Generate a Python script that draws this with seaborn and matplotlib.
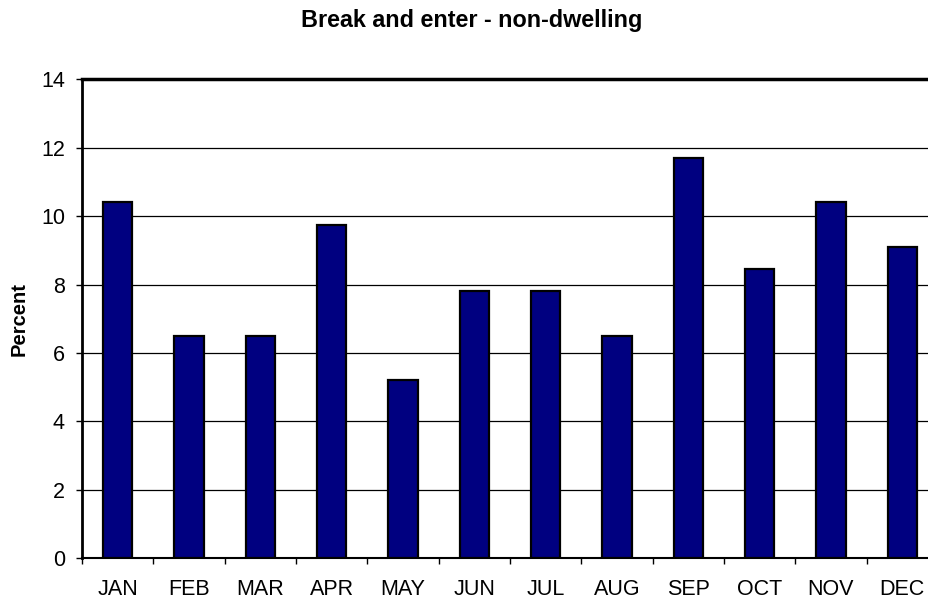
import matplotlib
matplotlib.use("Agg")
import matplotlib.pyplot as plt
import seaborn as sns
import pandas as pd
import numpy as np

months = ["JAN", "FEB", "MAR", "APR", "MAY", "JUN", "JUL", "AUG", "SEP", "OCT", "NOV", "DEC"]
percent = [10.4, 6.5, 6.5, 9.75, 5.2, 7.8, 7.8, 6.5, 11.7, 8.45, 10.4, 9.1]
yticks = [0, 2, 4, 6, 8, 10, 12, 14]
title = "Break and enter - non-dwelling"
ylabel = "Percent"

sns.set_theme(style="white")
plt.rcParams['font.family'] = ['Liberation Sans', 'DejaVu Sans']
for k in ["text.color", "axes.labelcolor", "xtick.color", "ytick.color"]:
    plt.rcParams[k] = "black"

df = pd.DataFrame({"month": months, "percent": percent})

W, H = 929, 602
fig = plt.figure(figsize=(W / 100, H / 100), dpi=100)
left, right, top, bottom = 82, 938, 79.3, 558.3
ax = fig.add_axes([left / W, (H - bottom) / H, (right - left) / W, (bottom - top) / H])

sns.barplot(data=df, x="month", y="percent", ax=ax, color="#000080",
            width=0.41, edgecolor="black", linewidth=1.6, saturation=1, zorder=3)

ax.set_ylim(0, 14)
ax.set_xlim(-0.5, len(months) - 0.5)
ax.set_yticks(yticks)
ax.set_yticklabels([str(t) for t in yticks], fontsize=15.5)
for t in yticks[1:]:
    ax.axhline(t, color="black", linewidth=0.9, zorder=1)

ax.set_xticks(range(len(months)))
ax.set_xticklabels(months, fontsize=15.5)
ax.tick_params(axis="x", length=0, pad=15)
ax.set_xticks(np.arange(-0.5, len(months), 1), minor=True)
ax.tick_params(axis="x", which="minor", length=4, width=1, color="black", direction="out", bottom=True)
ax.tick_params(axis="y", length=4.3, width=1, color="black", direction="out", left=True, pad=8)

for s in ["left", "top", "bottom", "right"]:
    ax.spines[s].set_color("black")
ax.spines["left"].set_linewidth(2)
ax.spines["top"].set_linewidth(2.5)
ax.spines["bottom"].set_linewidth(1.5)
ax.spines["right"].set_linewidth(2)

ax.set_xlabel("")
ax.set_ylabel(ylabel, fontsize=14.5, fontweight="bold", labelpad=9)
fig.text(472 / W, 1 - 20 / H, title, ha="center", va="center", fontsize=16.8, fontweight="bold")

fig.savefig("out.png", dpi=100, facecolor="white")
